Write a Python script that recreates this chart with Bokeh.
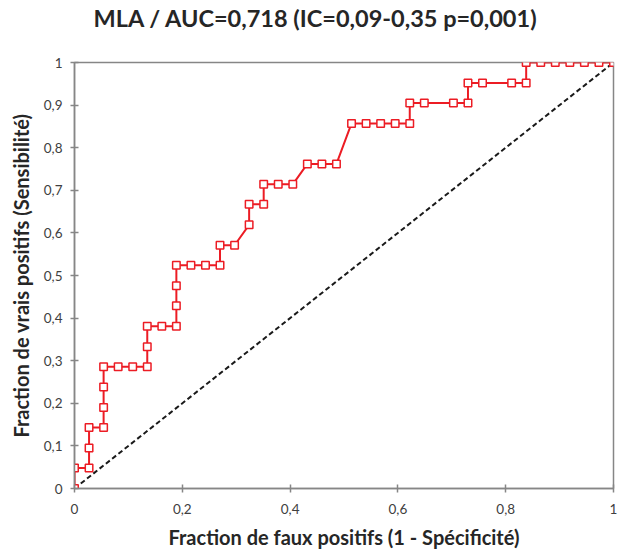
from bokeh.plotting import figure
from bokeh.models import ColumnDataSource, Range1d, FixedTicker, CustomJSTickFormatter, Title
from bokeh.embed import file_html
from bokeh.resources import INLINE

# ROC points (1 - specificity, sensitivity)
fpr = [0.0, 0.0, 0.027, 0.027, 0.027, 0.054, 0.054, 0.054, 0.054, 0.081,
       0.108, 0.135, 0.135, 0.135, 0.162, 0.189, 0.189, 0.189, 0.189, 0.216,
       0.243, 0.270, 0.270, 0.297, 0.324, 0.324, 0.351, 0.351, 0.378, 0.405,
       0.432, 0.459, 0.486, 0.514, 0.541, 0.568, 0.595, 0.622, 0.622, 0.649,
       0.703, 0.730, 0.730, 0.757, 0.811, 0.838, 0.838, 0.865, 0.892, 0.919,
       0.946, 0.973, 1.0]
tpr = [0.0, 0.048, 0.048, 0.095, 0.143, 0.143, 0.190, 0.238, 0.286, 0.286,
       0.286, 0.286, 0.333, 0.381, 0.381, 0.381, 0.429, 0.476, 0.524, 0.524,
       0.524, 0.524, 0.571, 0.571, 0.619, 0.667, 0.667, 0.714, 0.714, 0.714,
       0.762, 0.762, 0.762, 0.857, 0.857, 0.857, 0.857, 0.857, 0.905, 0.905,
       0.905, 0.905, 0.952, 0.952, 0.952, 0.952, 1.0, 1.0, 1.0, 1.0,
       1.0, 1.0, 1.0]
diag_x = [0.0, 1.0]
diag_y = [0.0, 1.0]
x_ticks = [0, 0.2, 0.4, 0.6, 0.8, 1]
y_ticks = [0, 0.1, 0.2, 0.3, 0.4, 0.5, 0.6, 0.7, 0.8, 0.9, 1]
title_text = "MLA / AUC=0,718 (IC=0,09-0,35 p=0,001)"
x_label = "Fraction de faux positifs (1 - Spécificité)"
y_label = "Fraction de vrais positifs (Sensibilité)"

FONT = "Lato"
RED = "#ec1c24"
GRAY = "#868686"

p = figure(width=618, height=553, output_backend="svg", toolbar_location=None,
           x_range=Range1d(0, 1), y_range=Range1d(0, 1),
           min_border_left=74, min_border_right=5, min_border_top=62, min_border_bottom=65)

# empty spacer between the frame and the chart title
p.add_layout(Title(text=" ", text_font=FONT, text_font_size="20px", standoff=0), "above")
p.add_layout(Title(text=title_text, align="left", offset=19, vertical_align="top",
                   standoff=6, text_font=FONT, text_font_size="23.5px",
                   text_font_style="bold", text_color="#262626"), "above")

p.xgrid.visible = False
p.ygrid.visible = False
p.outline_line_color = GRAY
p.outline_line_width = 1.5
p.background_fill_color = "white"
p.border_fill_color = "white"

fmt = CustomJSTickFormatter(code="return String(tick).replace('.', ',');")
for ax, ticks in ((p.xaxis[0], x_ticks), (p.yaxis[0], y_ticks)):
    ax.ticker = FixedTicker(ticks=ticks)
    ax.formatter = fmt
    ax.axis_line_color = GRAY
    ax.axis_line_width = 1.5
    ax.major_tick_line_color = GRAY
    ax.major_tick_line_width = 1.5
    ax.major_tick_in = 4
    ax.major_tick_out = 4
    ax.minor_tick_line_color = None
    ax.major_label_text_font = FONT
    ax.major_label_text_font_size = "13.5px"
    ax.major_label_text_color = "#404040"
    ax.axis_label_text_font = FONT
    ax.axis_label_text_font_size = "20px"
    ax.axis_label_text_font_style = "bold"
    ax.axis_label_text_color = "#262626"

p.xaxis.axis_label = x_label
p.yaxis.axis_label = y_label
p.xaxis.major_label_standoff = 11
p.yaxis.major_label_standoff = 8
p.xaxis.axis_label_standoff = 8
p.yaxis.axis_label_standoff = 8

src = ColumnDataSource(data=dict(x=fpr, y=tpr))
p.line(diag_x, diag_y, line_color="#1a1a1a", line_width=2, line_dash="5 3")
p.line("x", "y", source=src, line_color=RED, line_width=2)
p.scatter("x", "y", source=src, marker="square", size=7.5, fill_color="white",
          line_color=RED, line_width=1.5)

open("out.html", "w").write(file_html(p, INLINE))
